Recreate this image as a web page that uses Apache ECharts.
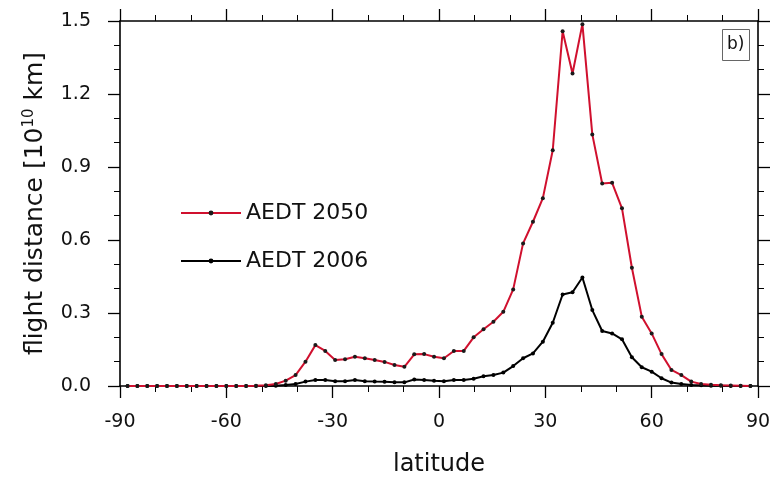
<!DOCTYPE html>
<html>
<head>
<meta charset="utf-8">
<script src="https://cdn.jsdelivr.net/npm/echarts@6/dist/echarts.min.js"></script>
<style>html,body{margin:0;padding:0;background:#fff;}#c{width:780px;height:479px;}</style>
</head>
<body>
<div id="c"></div>
<script>
// Gaussian-grid latitudes (degrees)
const latitudes = [-87.86,-85.10,-82.31,-79.53,-76.74,-73.95,-71.16,-68.37,-65.58,-62.79,-60.00,-57.21,-54.42,-51.63,-48.84,-46.04,
  -43.25,-40.46,-37.67,-34.88,-32.09,-29.30,-26.51,-23.72,-20.93,-18.14,-15.35,-12.56,-9.77,-6.98,-4.19,-1.40,
  1.40,4.19,6.98,9.77,12.56,15.35,18.14,20.93,23.72,26.51,29.30,32.09,34.88,37.67,40.46,43.25,
  46.04,48.84,51.63,54.42,57.21,60.00,62.79,65.58,68.37,71.16,73.95,76.74,79.53,82.31,85.10,87.86];
// flight distance [10^10 km]
const aedt2050 = [0,0,0,0,0,0,0,0,0,0,0,0,0,0.001,0.003,0.008,
  0.022,0.045,0.10,0.168,0.144,0.107,0.11,0.12,0.114,0.107,0.099,0.086,0.079,0.13,0.131,0.12,
  0.114,0.144,0.144,0.20,0.233,0.264,0.305,0.397,0.586,0.675,0.772,0.969,1.458,1.284,1.487,1.034,
  0.832,0.835,0.73,0.486,0.285,0.216,0.131,0.066,0.045,0.018,0.008,0.005,0.003,0.002,0.001,0];
const aedt2006 = [0,0,0,0,0,0,0,0,0,0,0,0,0,0,0,0.001,
  0.004,0.008,0.018,0.025,0.025,0.02,0.02,0.025,0.02,0.018,0.017,0.015,0.015,0.027,0.025,0.022,
  0.02,0.025,0.025,0.03,0.04,0.045,0.055,0.082,0.114,0.134,0.182,0.26,0.376,0.385,0.446,0.312,
  0.226,0.216,0.192,0.118,0.077,0.059,0.032,0.014,0.008,0.004,0.003,0.001,0.001,0,0,0];
const xTicks = [-90,-60,-30,0,30,60,90];
const yTicks = ['0.0','0.3','0.6','0.9','1.2','1.5'];

const FONT = '"DejaVu Sans", "Liberation Sans", Arial, sans-serif';
const axLine = {show:true, onZero:false, lineStyle:{color:'#000', width:1.6}};
const tick = {show:true, inside:false, length:12, lineStyle:{color:'#000', width:1.3}};
const minor = {show:true, splitNumber:3, length:6, lineStyle:{color:'#000', width:1}};

const chart = echarts.init(document.getElementById('c'), null, {renderer:'canvas'});
chart.setOption({
  animation:false,
  backgroundColor:'#fff',
  title:{text:'b)', left:722, top:29, padding:[6,5,6,5], borderColor:'#666', borderWidth:1,
    textStyle:{fontFamily:FONT, fontSize:17, fontWeight:'normal', color:'#111', lineHeight:20}},
  legend:{orient:'vertical', left:180, top:202, padding:0, itemGap:26, itemWidth:60, itemHeight:6,
    data:['AEDT 2050','AEDT 2006'],
    textStyle:{fontFamily:FONT, fontSize:22, color:'#111'}},
  grid:{left:120, right:22, top:21, bottom:93, containLabel:false, outerBoundsMode:'none'},
  xAxis:[
    {type:'value', min:-90, max:90, interval:30, position:'bottom',
     name:'latitude', nameLocation:'middle', nameGap:67,
     nameTextStyle:{fontFamily:FONT, fontSize:24, color:'#111'},
     axisLine:axLine, axisTick:tick, minorTick:minor, splitLine:{show:false},
     axisLabel:{fontFamily:FONT, fontSize:19, color:'#111', margin:27,
       formatter:v=>String(xTicks[xTicks.indexOf(v)])}},
    {type:'value', min:-90, max:90, interval:30, position:'top',
     axisLine:axLine, axisTick:tick, minorTick:minor, splitLine:{show:false}, axisLabel:{show:false}}
  ],
  yAxis:[
    {type:'value', min:0, max:1.5, interval:0.3, position:'left',
     name:'{a|flight distance [10}{s|10}{a| km]}', nameLocation:'middle', nameGap:72, nameRotate:90,
     nameTextStyle:{fontFamily:FONT, color:'#111',
       rich:{a:{fontFamily:FONT, fontSize:25, color:'#111'}, s:{fontFamily:FONT, fontSize:15, color:'#111', padding:[0,0,11,0]}}},
     axisLine:axLine, axisTick:tick, minorTick:minor, splitLine:{show:false},
     axisLabel:{fontFamily:FONT, fontSize:19, color:'#111', margin:29,
       formatter:v=>yTicks[Math.round(v/0.3)]}},
    {type:'value', min:0, max:1.5, interval:0.3, position:'right',
     axisLine:axLine, axisTick:tick, minorTick:minor, splitLine:{show:false}, axisLabel:{show:false}}
  ],
  series:[
    {name:'AEDT 2050', type:'line', data:latitudes.map((x,i)=>[x,aedt2050[i]]),
     symbol:'circle', symbolSize:4, showSymbol:true,
     lineStyle:{color:'#d0102e', width:2}, itemStyle:{color:'#1a1a1a'}, z:3},
    {name:'AEDT 2006', type:'line', data:latitudes.map((x,i)=>[x,aedt2006[i]]),
     symbol:'circle', symbolSize:4, showSymbol:true,
     lineStyle:{color:'#000', width:2}, itemStyle:{color:'#000'}, z:2}
  ]
});
</script>
</body>
</html>
